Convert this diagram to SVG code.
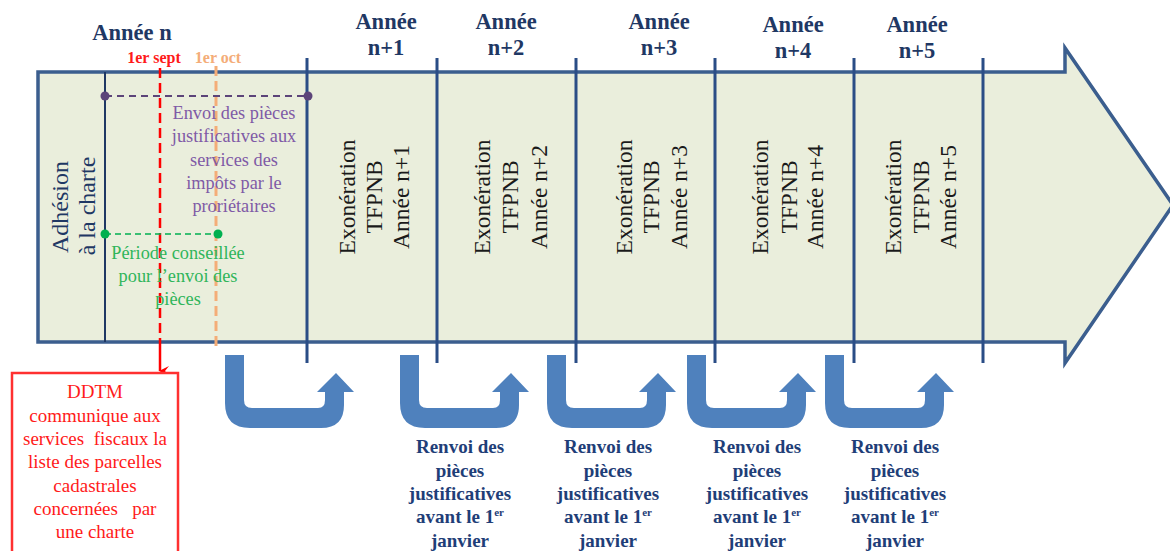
<svg xmlns="http://www.w3.org/2000/svg" width="1170" height="551" viewBox="0 0 1170 551">
<defs>
<style>
text{font-family:'Liberation Serif','Times New Roman','DejaVu Serif',serif}
.yr{font-weight:bold;font-size:22.5px;fill:#1f3864;text-anchor:middle}
.exo{font-size:23.5px;fill:#1a1a1a;text-anchor:middle}
.div{stroke:#2a4d86;stroke-width:3}
.lbl{font-weight:bold;font-size:19px;fill:#1f3e78;text-anchor:middle}
.pur{font-size:18.3px;fill:#7f5aa6;text-anchor:middle}
.grn{font-size:18.3px;fill:#2fb55a;text-anchor:middle}
.red{font-size:19px;fill:#ff1a1a;text-anchor:middle}
.adh{font-size:24px;fill:#1f3864;text-anchor:middle}
.uarr{fill:#4f81bd}
</style>
<path id="u" d="M0 0 L19 0 L19 45 Q19 53 27 53 L93 53 Q100 53 100 45 L100 37 L92 37 L111 18 L129 37 L119 37 L119 50 Q119 73 96 73 L25 73 Q0 73 0 48 Z"/>
<marker id="redhead" markerWidth="10" markerHeight="10" refX="5" refY="9" orient="auto-start-reverse" markerUnits="userSpaceOnUse" viewBox="0 0 10 10">
<path d="M0 0 L5 10 L10 0 L5 4 Z" fill="#ff0000"/>
</marker>
</defs>
<rect width="1170" height="551" fill="#ffffff"/>

<g id="timeline">
<path d="M38 72 L1065 72 L1065 48 L1173 205 L1065 363 L1065 342 L38 342 Z" fill="#eaeedc" stroke="#3b5e8e" stroke-width="3.5" stroke-linejoin="miter"/>
</g>

<g id="connectors">
<line x1="105" y1="72" x2="105" y2="342" stroke="#1f3864" stroke-width="2"/>
<line class="div" x1="307" y1="58" x2="307" y2="363"/>
<line class="div" x1="437" y1="58" x2="437" y2="363"/>
<line class="div" x1="576" y1="58" x2="576" y2="363"/>
<line class="div" x1="715" y1="58" x2="715" y2="363"/>
<line class="div" x1="854" y1="58" x2="854" y2="363"/>
<line class="div" x1="983" y1="58" x2="983" y2="363"/>
<line x1="216" y1="66" x2="216" y2="347" stroke="#f4ad78" stroke-width="3" stroke-dasharray="10 5"/>
<line x1="160" y1="68" x2="160" y2="342" stroke="#ff0000" stroke-width="2.5" stroke-dasharray="10 5"/>
<line x1="160" y1="342" x2="160" y2="371" stroke="#ff0000" stroke-width="2.5" marker-end="url(#redhead)"/>
<line x1="105" y1="96" x2="308" y2="96" stroke="#5c4479" stroke-width="2" stroke-dasharray="7 5"/>
<circle cx="105" cy="96" r="4.5" fill="#5c4479"/>
<circle cx="308" cy="96" r="4.5" fill="#5c4479"/>
<line x1="105" y1="234" x2="218" y2="234" stroke="#00b050" stroke-width="1.6" stroke-dasharray="6 4"/>
<circle cx="105" cy="234" r="4.5" fill="#00b050"/>
<circle cx="218" cy="234" r="4.5" fill="#00b050"/>
<use href="#u" class="uarr" x="225" y="355"/>
<use href="#u" class="uarr" x="400" y="355"/>
<use href="#u" class="uarr" x="547" y="355"/>
<use href="#u" class="uarr" x="687" y="355"/>
<use href="#u" class="uarr" x="825" y="355"/>
</g>

<g id="year-labels">
<text class="yr" x="132" y="40">Année n</text>
<text class="yr" x="386" y="29">Année</text><text class="yr" x="386" y="55">n+1</text>
<text class="yr" x="506" y="29">Année</text><text class="yr" x="506" y="55">n+2</text>
<text class="yr" x="659" y="29">Année</text><text class="yr" x="659" y="55">n+3</text>
<text class="yr" x="793" y="32">Année</text><text class="yr" x="793" y="58">n+4</text>
<text class="yr" x="917" y="32">Année</text><text class="yr" x="917" y="58">n+5</text>
<text x="154" y="63" font-size="16" font-weight="bold" fill="#ff1a1a" text-anchor="middle">1er sept</text>
<text x="218" y="63" font-size="16" font-weight="bold" fill="#f4ad78" text-anchor="middle">1er oct</text>
</g>

<g id="adhesion">
<text class="adh" transform="translate(68 207) rotate(-90)">Adhésion</text>
<text class="adh" transform="translate(95 206) rotate(-90)">à la charte</text>
</g>

<g id="envoi">
<text class="pur" x="234" y="119">Envoi des pièces</text>
<text class="pur" x="234" y="142">justificatives aux</text>
<text class="pur" x="234" y="166">services des</text>
<text class="pur" x="234" y="189">impôts par le</text>
<text class="pur" x="234" y="212">proriétaires</text>
</g>

<g id="periode">
<text class="grn" x="178" y="259">Période conseillée</text>
<text class="grn" x="178" y="282">pour l’envoi des</text>
<text class="grn" x="178" y="305">pièces</text>
</g>

<g id="exo1">
<text class="exo" transform="translate(355 197) rotate(-90)">Exonération</text>
<text class="exo" transform="translate(382 197) rotate(-90)">TFPNB</text>
<text class="exo" transform="translate(409 197) rotate(-90)">Année n+1</text>
</g>
<g id="exo2">
<text class="exo" transform="translate(490 197) rotate(-90)">Exonération</text>
<text class="exo" transform="translate(518 197) rotate(-90)">TFPNB</text>
<text class="exo" transform="translate(547 197) rotate(-90)">Année n+2</text>
</g>
<g id="exo3">
<text class="exo" transform="translate(632 197) rotate(-90)">Exonération</text>
<text class="exo" transform="translate(659 197) rotate(-90)">TFPNB</text>
<text class="exo" transform="translate(687 197) rotate(-90)">Année n+3</text>
</g>
<g id="exo4">
<text class="exo" transform="translate(768 197) rotate(-90)">Exonération</text>
<text class="exo" transform="translate(797 197) rotate(-90)">TFPNB</text>
<text class="exo" transform="translate(823 197) rotate(-90)">Année n+4</text>
</g>
<g id="exo5">
<text class="exo" transform="translate(901 197) rotate(-90)">Exonération</text>
<text class="exo" transform="translate(929 197) rotate(-90)">TFPNB</text>
<text class="exo" transform="translate(956 197) rotate(-90)">Année n+5</text>
</g>

<g id="ddtm">
<rect x="12" y="373" width="166" height="190" fill="#ffffff" stroke="#ff3030" stroke-width="2.5"/>
<text class="red" x="95" y="398" font-size="20">DDTM</text>
<text class="red" x="95" y="422">communique aux</text>
<text class="red" x="95" y="445" xml:space="preserve">services  fiscaux la</text>
<text class="red" x="95" y="468">liste des parcelles</text>
<text class="red" x="95" y="492">cadastrales</text>
<text class="red" x="95" y="515" xml:space="preserve">concernées   par</text>
<text class="red" x="95" y="538">une charte</text>
</g>

<g id="renvoi2">
<text class="lbl" x="460" y="453">Renvoi des</text>
<text class="lbl" x="460" y="477">pièces</text>
<text class="lbl" x="460" y="500">justificatives</text>
<text class="lbl" x="460" y="523">avant le 1<tspan font-size="11" dy="-7">er</tspan></text>
<text class="lbl" x="460" y="547">janvier</text>
</g>
<g id="renvoi3">
<text class="lbl" x="608" y="453">Renvoi des</text>
<text class="lbl" x="608" y="477">pièces</text>
<text class="lbl" x="608" y="500">justificatives</text>
<text class="lbl" x="608" y="523">avant le 1<tspan font-size="11" dy="-7">er</tspan></text>
<text class="lbl" x="608" y="547">janvier</text>
</g>
<g id="renvoi4">
<text class="lbl" x="757" y="453">Renvoi des</text>
<text class="lbl" x="757" y="477">pièces</text>
<text class="lbl" x="757" y="500">justificatives</text>
<text class="lbl" x="757" y="523">avant le 1<tspan font-size="11" dy="-7">er</tspan></text>
<text class="lbl" x="757" y="547">janvier</text>
</g>
<g id="renvoi5">
<text class="lbl" x="895" y="453">Renvoi des</text>
<text class="lbl" x="895" y="477">pièces</text>
<text class="lbl" x="895" y="500">justificatives</text>
<text class="lbl" x="895" y="523">avant le 1<tspan font-size="11" dy="-7">er</tspan></text>
<text class="lbl" x="895" y="547">janvier</text>
</g>
</svg>
